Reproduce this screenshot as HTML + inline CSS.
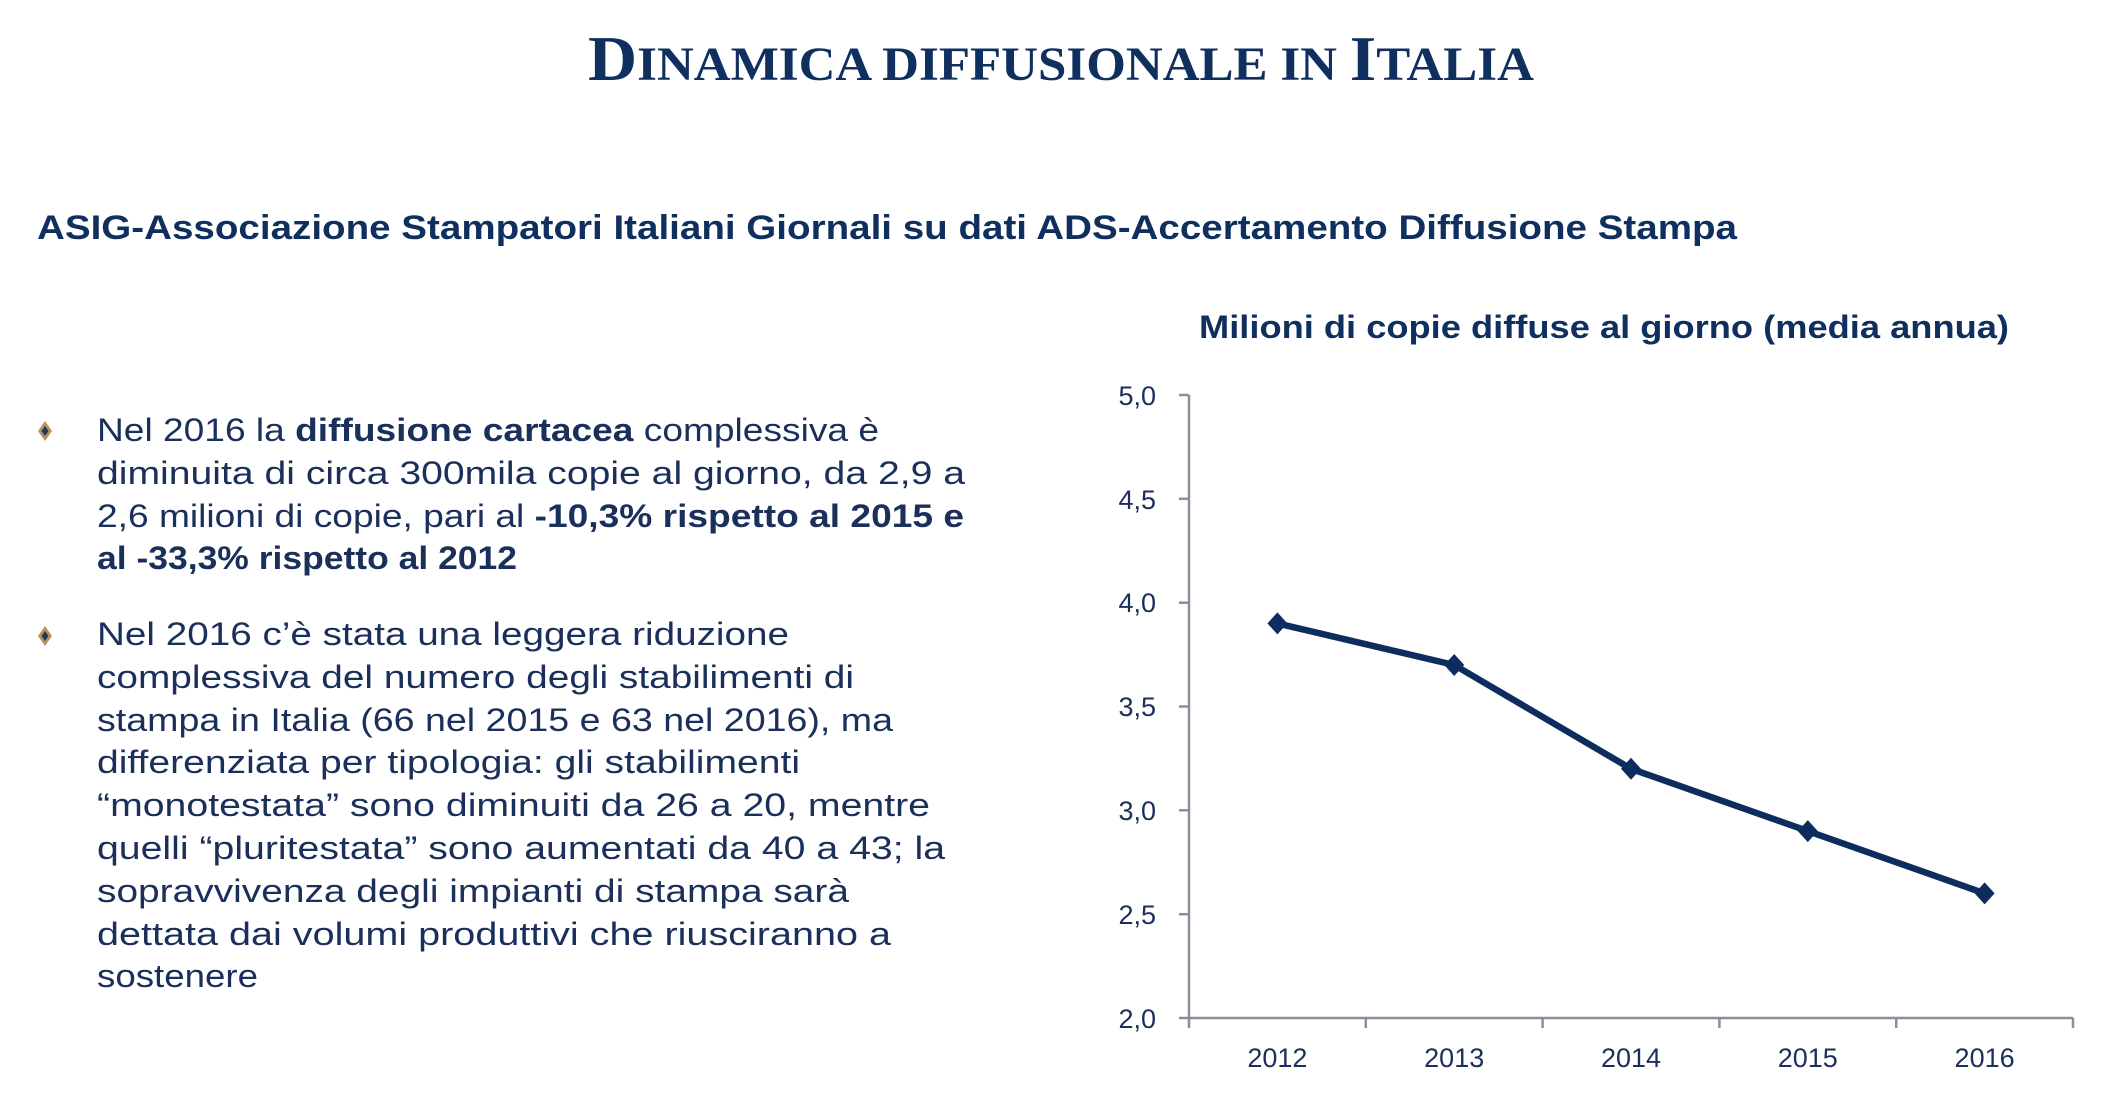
<!DOCTYPE html>
<html><head><meta charset="utf-8"><style>html,body{margin:0;padding:0;background:#fff}svg{display:block}</style></head>
<body>
<svg width="2126" height="1096" viewBox="0 0 2126 1096" xmlns="http://www.w3.org/2000/svg">
<g font-family="Liberation Serif, serif" font-weight="bold" fill="#0f2f5f">
<text x="588" y="80" textLength="946" lengthAdjust="spacingAndGlyphs"><tspan font-size="64">D</tspan><tspan font-size="48">INAMICA DIFFUSIONALE IN </tspan><tspan font-size="64">I</tspan><tspan font-size="48">TALIA</tspan></text>
</g>
<g font-family="Liberation Sans, sans-serif" fill="#0f2f5f">
<text x="37" y="239" font-size="34" font-weight="bold" textLength="1700" lengthAdjust="spacingAndGlyphs">ASIG-Associazione Stampatori Italiani Giornali su dati ADS-Accertamento Diffusione Stampa</text>
<text x="1199" y="338" font-size="32" font-weight="bold" textLength="810" lengthAdjust="spacingAndGlyphs">Milioni di copie diffuse al giorno (media annua)</text>
</g>
<g>
<polygon points="45,421 52,431 45,441 38,431" fill="#b8935a"/><polygon points="45,426 48.5,431 45,436 41.5,431" fill="#1f3864"/>
<polygon points="45,626 52,636 45,646 38,636" fill="#b8935a"/><polygon points="45,631 48.5,636 45,641 41.5,636" fill="#1f3864"/>
</g>
<g font-family="Liberation Sans, sans-serif" font-size="32" fill="#1a2f5a">
<text x="97" y="441" textLength="782" lengthAdjust="spacingAndGlyphs">Nel 2016 la <tspan font-weight="bold">diffusione cartacea</tspan> complessiva è</text>
<text x="97" y="484" textLength="868" lengthAdjust="spacingAndGlyphs">diminuita di circa 300mila copie al giorno, da 2,9 a</text>
<text x="97" y="527" textLength="867" lengthAdjust="spacingAndGlyphs">2,6 milioni di copie, pari al <tspan font-weight="bold">-10,3% rispetto al 2015 e</tspan></text>
<text x="97" y="569" textLength="420" lengthAdjust="spacingAndGlyphs" font-weight="bold">al -33,3% rispetto al 2012</text>
<text x="97" y="645" textLength="692" lengthAdjust="spacingAndGlyphs">Nel 2016 c’è stata una leggera riduzione</text>
<text x="97" y="688" textLength="757" lengthAdjust="spacingAndGlyphs">complessiva del numero degli stabilimenti di</text>
<text x="97" y="731" textLength="796" lengthAdjust="spacingAndGlyphs">stampa in Italia (66 nel 2015 e 63 nel 2016), ma</text>
<text x="97" y="773" textLength="703" lengthAdjust="spacingAndGlyphs">differenziata per tipologia: gli stabilimenti</text>
<text x="97" y="816" textLength="833" lengthAdjust="spacingAndGlyphs">“monotestata” sono diminuiti da 26 a 20, mentre</text>
<text x="97" y="859" textLength="848" lengthAdjust="spacingAndGlyphs">quelli “pluritestata” sono aumentati da 40 a 43; la</text>
<text x="97" y="902" textLength="752" lengthAdjust="spacingAndGlyphs">sopravvivenza degli impianti di stampa sarà</text>
<text x="97" y="945" textLength="794" lengthAdjust="spacingAndGlyphs">dettata dai volumi produttivi che riusciranno a</text>
<text x="97" y="987" textLength="161" lengthAdjust="spacingAndGlyphs">sostenere</text>
</g>
<g stroke="#8a8e9a" stroke-width="2.5" fill="none">
<line x1="1189" y1="395" x2="1189" y2="1018"/>
<line x1="1189" y1="1018" x2="2073" y2="1018"/>
<line x1="1179" y1="395" x2="1189" y2="395"/>
<line x1="1179" y1="498.8" x2="1189" y2="498.8"/>
<line x1="1179" y1="602.7" x2="1189" y2="602.7"/>
<line x1="1179" y1="706.5" x2="1189" y2="706.5"/>
<line x1="1179" y1="810.3" x2="1189" y2="810.3"/>
<line x1="1179" y1="914.2" x2="1189" y2="914.2"/>
<line x1="1179" y1="1018" x2="1189" y2="1018"/>
<line x1="1189" y1="1018" x2="1189" y2="1028"/>
<line x1="1365.8" y1="1018" x2="1365.8" y2="1028"/>
<line x1="1542.6" y1="1018" x2="1542.6" y2="1028"/>
<line x1="1719.4" y1="1018" x2="1719.4" y2="1028"/>
<line x1="1896.2" y1="1018" x2="1896.2" y2="1028"/>
<line x1="2073" y1="1018" x2="2073" y2="1028"/>
</g>
<g font-family="Liberation Sans, sans-serif" font-size="27" fill="#1a2f5a" text-anchor="end">
<text x="1156" y="405">5,0</text>
<text x="1156" y="509">4,5</text>
<text x="1156" y="612">4,0</text>
<text x="1156" y="716">3,5</text>
<text x="1156" y="820">3,0</text>
<text x="1156" y="924">2,5</text>
<text x="1156" y="1028">2,0</text>
</g>
<g font-family="Liberation Sans, sans-serif" font-size="27" fill="#1a2f5a" text-anchor="middle">
<text x="1277.4" y="1067">2012</text>
<text x="1454.2" y="1067">2013</text>
<text x="1631" y="1067">2014</text>
<text x="1807.8" y="1067">2015</text>
<text x="1984.6" y="1067">2016</text>
</g>
<polyline points="1277.4,623.4 1454.2,665 1631,768.8 1807.8,831.1 1984.6,893.4" fill="none" stroke="#0d2d5e" stroke-width="6.5" stroke-linejoin="round"/>
<g fill="#0d2d5e">
<polygon points="1277.4,612.4 1287.4,623.4 1277.4,634.4 1267.4,623.4"/>
<polygon points="1454.2,654 1464.2,665 1454.2,676 1444.2,665"/>
<polygon points="1631,757.8 1641,768.8 1631,779.8 1621,768.8"/>
<polygon points="1807.8,820.1 1817.8,831.1 1807.8,842.1 1797.8,831.1"/>
<polygon points="1984.6,882.4 1994.6,893.4 1984.6,904.4 1974.6,893.4"/>
</g>
</svg>
</body></html>
